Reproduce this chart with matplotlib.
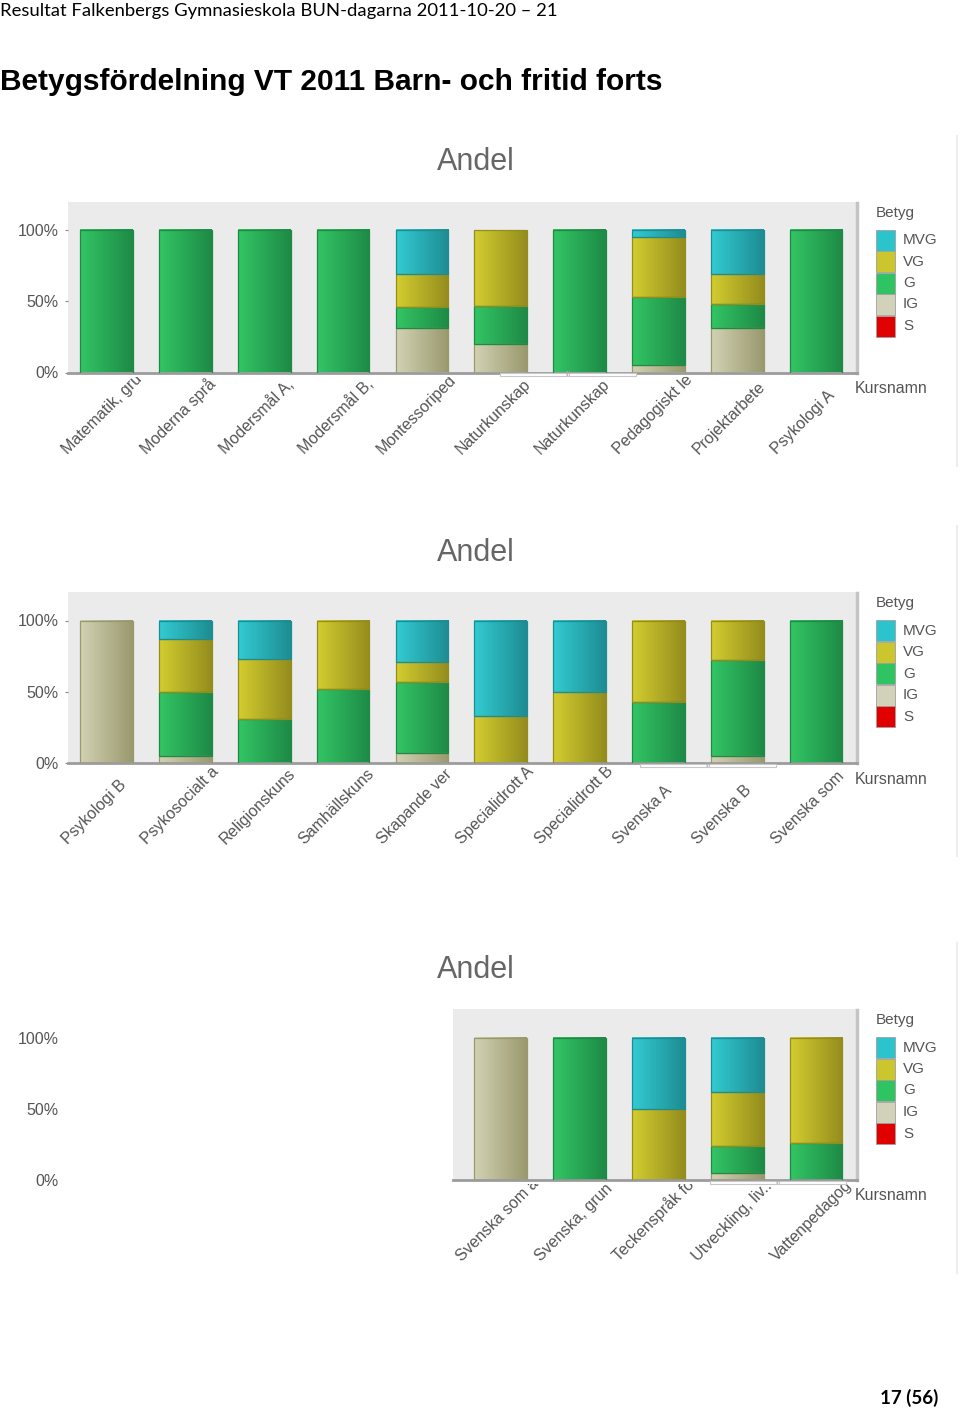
import matplotlib
matplotlib.use("Agg")
import matplotlib.pyplot as plt
import matplotlib.transforms as mtransforms
from matplotlib.patches import Rectangle
from matplotlib.lines import Line2D
import numpy as np

HEADER = "Resultat Falkenbergs Gymnasieskola BUN-dagarna 2011-10-20 – 21"
TITLE = "Betygsfördelning VT 2011 Barn- och fritid forts"
PAGE = "17 (56)"

GRADES = ["MVG", "VG", "G", "IG", "S"]

COURSES_1 = ["Matematik, gru", "Moderna språ", "Modersmål A,", "Modersmål B,",
             "Montessoriped", "Naturkunskap", "Naturkunskap", "Pedagogiskt le",
             "Projektarbete", "Psykologi A"]
S_1 = [0, 0, 0, 0, 0, 0, 0, 0, 0, 0]
IG_1 = [0, 0, 0, 0, 31, 20, 0, 5, 31, 0]
G_1 = [100, 100, 100, 100, 15, 27, 100, 48, 17, 100]
VG_1 = [0, 0, 0, 0, 23, 53, 0, 42, 21, 0]
MVG_1 = [0, 0, 0, 0, 31, 0, 0, 5, 31, 0]

COURSES_2 = ["Psykologi B", "Psykosocialt a", "Religionskuns", "Samhällskuns",
             "Skapande ver", "Specialidrott A", "Specialidrott B", "Svenska A",
             "Svenska B", "Svenska som"]
S_2 = [0, 0, 0, 0, 0, 0, 0, 0, 0, 0]
IG_2 = [100, 5, 0, 0, 7, 0, 0, 0, 5, 0]
G_2 = [0, 45, 31, 52, 50, 0, 0, 43, 67, 100]
VG_2 = [0, 37, 42, 48, 14, 33, 50, 57, 28, 0]
MVG_2 = [0, 13, 27, 0, 29, 67, 50, 0, 0, 0]

COURSES_3 = ["Svenska som a", "Svenska, grun", "Teckenspråk fö",
             "Utveckling, liv..", "Vattenpedagog"]
S_3 = [0, 0, 0, 0, 0]
IG_3 = [100, 0, 0, 5, 0]
G_3 = [0, 100, 0, 19, 26]
VG_3 = [0, 0, 50, 38, 74]
MVG_3 = [0, 0, 50, 38, 0]

# light / dark ends of the bar gradient, flat colour for legend
LIGHT = {"MVG": "#33CBD2", "VG": "#D3CD30", "G": "#33C565", "IG": "#D2D2B4", "S": "#E80000"}
DARK = {"MVG": "#1E8C93", "VG": "#948D1D", "G": "#1E8A46", "IG": "#9A996E", "S": "#A00000"}
FLAT = {"MVG": "#2CC4CC", "VG": "#CCC62E", "G": "#2EC462", "IG": "#D2D2BA", "S": "#E00000"}

W, H = 960, 1411
TXT = "#555555"


def fy(px):
    return 1 - px / H


def gradient_bars(ax, x, heights, bottoms, grade):
    c0 = np.array(matplotlib.colors.to_rgb(LIGHT[grade]))
    c1 = np.array(matplotlib.colors.to_rgb(DARK[grade]))
    t = np.linspace(0, 1, 64)[None, :, None]
    img = c0 + (c1 - c0) * t
    keep = heights > 0
    if not keep.any():
        return
    bars = ax.bar(x[keep], heights[keep], 0.67, bottom=bottoms[keep],
                  facecolor="none", edgecolor=DARK[grade], linewidth=0.9, zorder=3)
    for b in bars:
        ax.imshow(img, extent=[b.get_x(), b.get_x() + b.get_width(),
                               b.get_y(), b.get_y() + b.get_height()],
                  aspect="auto", zorder=2, interpolation="bilinear")


def panel(fig, zero_px, x, courses, s, ig, g, vg, mvg, bg_from, scroll):
    top = zero_px - 1.2 * 142.5
    ax = fig.add_axes([68 / W, fy(zero_px), (857 - 68) / W, (zero_px - top) / H])
    ax.set_facecolor("white")
    ax.axvspan(bg_from, 9.52, color="#EBEBEB", zorder=0, lw=0)
    bottom = np.zeros(len(x))
    for grade, vals in [("S", s), ("IG", ig), ("G", g), ("VG", vg), ("MVG", mvg)]:
        v = np.array(vals) / 100
        gradient_bars(ax, x, v, bottom, grade)
        bottom = bottom + v
    ax.set_xlim(-0.49, 9.52)
    ax.set_ylim(0, 1.2)
    for side in ["top", "left"]:
        ax.spines[side].set_visible(False)
    ax.spines["right"].set_color("#C4C4C4")
    ax.spines["right"].set_linewidth(2.5)
    ax.spines["right"].set_bounds(0, 1.19)
    ax.spines["bottom"].set_color("#9C9C9C")
    ax.spines["bottom"].set_linewidth(2)
    ax.spines["bottom"].set_bounds(bg_from, 9.52)
    ax.set_yticks([0, 0.5, 1], ["0%", "50%", "100%"])
    ax.tick_params(axis="y", length=2 if bg_from < 0 else 0, color="#888888",
                   labelcolor=TXT, labelsize=11.5, pad=5 if bg_from < 0 else 7)
    ax.set_xticks(x, [""] * len(x))
    ax.tick_params(axis="x", length=0)
    # course names start at a fixed line below the axis and run up to the right,
    # cut off just under the axis line like the original
    off = mtransforms.ScaledTranslation(-0.39, -0.82, fig.dpi_scale_trans)
    trans = ax.get_xaxis_transform() + off
    box = mtransforms.TransformedBbox(
        mtransforms.Bbox([[0, fy(zero_px + 100)], [852 / W, fy(zero_px + 4)]]),
        fig.transFigure)
    for xi, name in zip(x, courses):
        t = ax.text(xi, 0, name, transform=trans, rotation=45, rotation_mode="anchor",
                    ha="left", va="baseline", fontsize=11.5, color=TXT)
        t.set_clip_path(None)
        t.set_clip_box(box)
        t.set_clip_on(True)
    # scrollbar widget under the axis
    ax.add_patch(Rectangle((scroll, -0.025), 1.72, 0.02, facecolor="white",
                           edgecolor="#C8C8C8", lw=0.8, clip_on=False, zorder=4))
    ax.text(scroll + 0.86, -0.015, "III", color="#AAAAAA", fontsize=5,
            ha="center", va="center", clip_on=False, zorder=5)

    fig.text(476 / W, fy(zero_px - 210), "Andel", fontsize=22, color="#666666",
             ha="center", va="center")
    fig.text(855 / W, fy(zero_px + 16), "Kursnamn", fontsize=11.5, color=TXT,
             ha="left", va="center")
    # legend
    fig.text(876 / W, fy(zero_px - 160), "Betyg", fontsize=11, color=TXT,
             ha="left", va="center")
    for i, gr in enumerate(GRADES):
        yc = zero_px - 132.5 + i * 21.5
        fig.add_artist(Rectangle((876 / W, fy(yc + 10.5)), 19 / W, 21 / H,
                                 transform=fig.transFigure, facecolor=FLAT[gr],
                                 edgecolor="#A0A0A0", lw=0.6))
        fig.text(903 / W, fy(yc), gr, fontsize=11, color=TXT, ha="left", va="center")
    fig.add_artist(Line2D([957 / W, 957 / W], [fy(zero_px - 237), fy(zero_px + 93)],
                          color="#EEEEEE", lw=1.5))
    return ax


plt.rcParams["font.family"] = ["Liberation Sans", "DejaVu Sans"]
fig = plt.figure(figsize=(W / 100, H / 100), dpi=100)

fig.text(0, fy(11), HEADER, fontsize=13.3, family="Lato", ha="left", va="center")
fig.text(0, fy(82), TITLE, fontsize=21.5, fontweight="bold", ha="left", va="center")
fig.text(938 / W, fy(1398), PAGE, fontsize=13.5, family="Lato", fontweight="bold",
         ha="right", va="center")

panel(fig, 372.5, np.arange(10), COURSES_1, S_1, IG_1, G_1, VG_1, MVG_1, -0.49, 4.99)
panel(fig, 763, np.arange(10), COURSES_2, S_2, IG_2, G_2, VG_2, MVG_2, -0.49, 6.77)
panel(fig, 1180, np.arange(5, 10), COURSES_3, S_3, IG_3, G_3, VG_3, MVG_3, 4.4, 7.66)

fig.savefig("out.png", dpi=100)
